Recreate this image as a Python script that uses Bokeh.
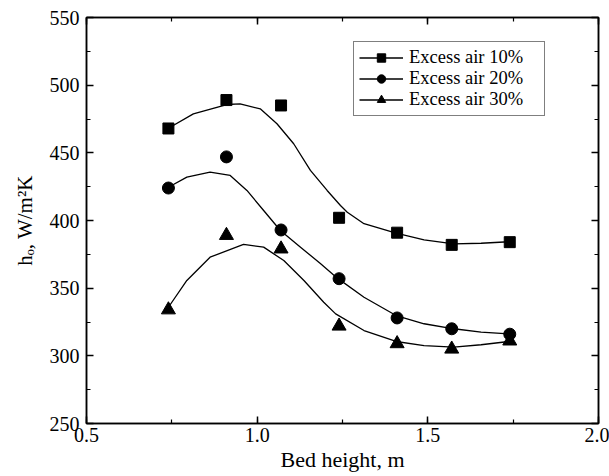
from bokeh.plotting import figure
from bokeh.models import (LinearAxis, SingleIntervalTicker, Legend, LegendItem,
                          Range1d, PrintfTickFormatter)
from bokeh.embed import file_html
from bokeh.resources import INLINE

# measured points
bed_height = [0.74, 0.91, 1.07, 1.24, 1.41, 1.57, 1.74]
h_air10 = [468, 489, 485, 402, 391, 382, 384]
h_air20 = [424, 447, 393, 357, 328, 320, 316]
h_air30 = [334, 389, 379, 322, 309, 305, 311]

# smooth fitted curves
fit10_x = [0.740, 0.813, 0.911, 0.950, 1.009, 1.058, 1.107, 1.156, 1.205, 1.244,
           1.264, 1.313, 1.407, 1.489, 1.576, 1.656, 1.737]
fit10_y = [468.2, 478.8, 485.7, 486.2, 482.5, 471.5, 456.7, 437.0, 422.2, 411.1,
           406.1, 397.6, 390.6, 385.7, 382.8, 383.2, 384.3]
fit20_x = [0.740, 0.794, 0.862, 0.921, 0.970, 1.019, 1.068, 1.127, 1.186, 1.235,
           1.313, 1.407, 1.489, 1.576, 1.656, 1.737]
fit20_y = [424.6, 432.0, 435.7, 433.3, 422.2, 407.4, 392.6, 380.3, 368.0, 357.4,
           343.3, 329.8, 323.7, 320.0, 317.5, 316.3]
fit30_x = [0.740, 0.794, 0.862, 0.960, 1.019, 1.078, 1.137, 1.195, 1.230,
           1.313, 1.407, 1.489, 1.576, 1.656, 1.737]
fit30_y = [335.9, 355.7, 372.9, 382.3, 380.3, 370.4, 355.7, 339.6, 331.0,
           318.7, 310.6, 307.6, 306.4, 308.2, 310.6]

labels = ["Excess air 10%", "Excess air 20%", "Excess air 30%"]
x_ticks_interval = 0.5
y_ticks_interval = 50

FONT = "Liberation Serif"

p = figure(width=609, height=476, output_backend="svg", toolbar_location=None,
           x_range=Range1d(0.5, 2.0), y_range=Range1d(250, 550),
           min_border_left=86, min_border_right=11, min_border_top=17,
           min_border_bottom=53, x_axis_location=None, y_axis_location=None)
p.xgrid.visible = False
p.ygrid.visible = False
p.outline_line_color = "black"
p.outline_line_width = 1.5
p.background_fill_color = "white"
p.border_fill_color = "white"


def make_axis(kind, show_labels):
    interval = x_ticks_interval if kind == "x" else y_ticks_interval
    ax = LinearAxis(ticker=SingleIntervalTicker(interval=interval, num_minor_ticks=2))
    ax.axis_line_color = "black"
    ax.axis_line_width = 1.5
    ax.major_tick_in = 7
    ax.major_tick_out = 0
    ax.minor_tick_in = 4
    ax.minor_tick_out = 0
    ax.major_tick_line_color = "black"
    ax.minor_tick_line_color = "black"
    ax.major_tick_line_width = 1.5
    ax.minor_tick_line_width = 1.2
    if show_labels:
        ax.major_label_text_font = FONT
        ax.major_label_text_font_size = "20px"
        ax.major_label_text_color = "black"
        ax.axis_label_text_font = FONT
        ax.axis_label_text_font_size = "22px"
        ax.axis_label_text_font_style = "normal"
        ax.axis_label_text_color = "black"
    else:
        ax.major_label_text_font_size = "0px"
        ax.major_label_text_color = None
        ax.major_label_standoff = 0
    return ax


xb = make_axis("x", True)
xb.formatter = PrintfTickFormatter(format="%.1f")
xb.axis_label = "Bed height, m"
xb.major_label_standoff = 4
xb.axis_label_standoff = 2
p.add_layout(xb, "below")

yl = make_axis("y", True)
yl.axis_label = "h\u2092, W/m\u00b2K"
yl.axis_label_text_font_size = "21px"
yl.major_label_standoff = 7
yl.axis_label_standoff = 10
p.add_layout(yl, "left")

p.add_layout(make_axis("x", False), "above")
p.add_layout(make_axis("y", False), "right")

items = []
series = [(fit10_x, fit10_y, h_air10, "square", 11),
          (fit20_x, fit20_y, h_air20, "circle", 12),
          (fit30_x, fit30_y, h_air30, "triangle", 14)]
for (fx, fy, hy, marker, size), lab in zip(series, labels):
    lr = p.line(fx, fy, line_color="black", line_width=1.3)
    sr = p.scatter(bed_height, hy, marker=marker, size=size,
                   fill_color="black", line_color="black")
    items.append(LegendItem(label=lab, renderers=[lr, sr]))

legend = Legend(items=items, location=(267, 307))
legend.border_line_color = "black"
legend.border_line_width = 1.5
legend.padding = 5
legend.spacing = 0
legend.margin = 0
legend.glyph_width = 44
legend.glyph_height = 21
legend.label_height = 21
legend.label_width = 130
legend.label_standoff = 6
legend.label_text_font = FONT
legend.label_text_font_size = "18.5px"
legend.label_text_color = "black"
legend.background_fill_alpha = 1
p.add_layout(legend, "center")

open("out.html", "w").write(file_html(p, INLINE))
